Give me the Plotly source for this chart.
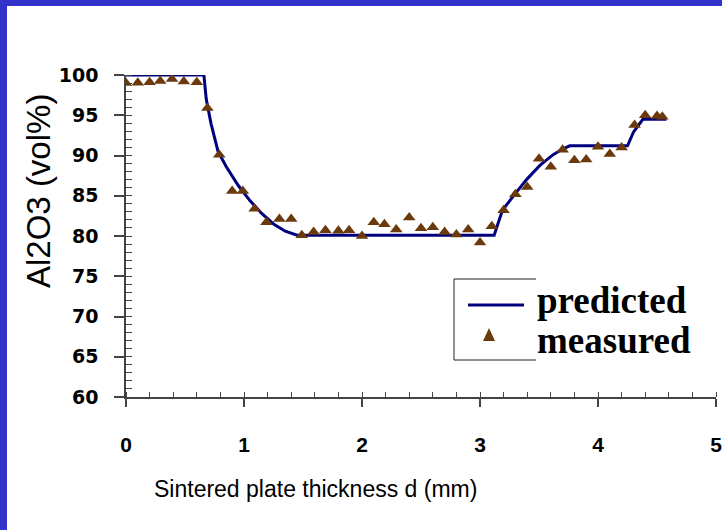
import plotly.graph_objects as go

# predicted (model) curve
pred_x = [0, 0.66, 0.68, 0.72, 0.78, 0.85, 0.95, 1.05, 1.15, 1.25, 1.35, 1.45,
          3.12, 3.19, 3.30, 3.40, 3.51, 3.62, 3.70, 3.76, 4.25, 4.30, 4.38, 4.58]
pred_y = [100, 100, 97, 94, 90.5, 88.6, 86.3, 84.4, 82.8, 81.5, 80.6, 80.1,
          80.1, 83.2, 85.3, 87.1, 88.8, 90.1, 90.8, 91.2, 91.2, 92.9, 94.5, 94.5]

# measured points
meas_x = [0.0, 0.10, 0.20, 0.29, 0.39, 0.49, 0.60, 0.69, 0.79, 0.90, 0.99, 1.09,
          1.19, 1.30, 1.40, 1.49, 1.59, 1.69, 1.80, 1.89, 2.00, 2.10, 2.19, 2.29,
          2.40, 2.50, 2.60, 2.70, 2.80, 2.90, 3.00, 3.10, 3.20, 3.30, 3.40, 3.50,
          3.60, 3.70, 3.80, 3.90, 4.00, 4.10, 4.20, 4.31, 4.40, 4.50, 4.545]
meas_y = [99.0, 99.05, 99.1, 99.25, 99.5, 99.2, 99.1, 95.9, 90.1, 85.6, 85.6, 83.4,
          81.7, 82.1, 82.1, 80.1, 80.5, 80.7, 80.65, 80.7, 80.0, 81.7, 81.45, 80.8,
          82.3, 80.95, 81.1, 80.5, 80.2, 80.8, 79.2, 81.2, 83.2, 85.2, 86.1, 89.6,
          88.6, 90.7, 89.4, 89.5, 91.1, 90.2, 91.0, 93.8, 95.0, 94.9, 94.8]

x_ticks = [0, 1, 2, 3, 4, 5]
y_ticks = [60, 65, 70, 75, 80, 85, 90, 95, 100]

LINE_COLOR = "#00007F"
MARK_COLOR = "#6B3A0C"
AX_COLOR = "#444444"
BLUE = "#3333CC"

W, H = 722, 530
L, R, T, B = 126, 6, 75, 133
PW, PH = W - L - R, H - T - B


def px(x):
    return (x - L) / PW


def py(y):
    return (H - B - y) / PH


fig = go.Figure()
fig.add_trace(go.Scatter(x=pred_x, y=pred_y, mode="lines",
                         line=dict(color=LINE_COLOR, width=3), name="predicted",
                         showlegend=False))
fig.add_trace(go.Scatter(x=meas_x, y=meas_y, mode="markers",
                         marker=dict(symbol="triangle-up", size=11, color=MARK_COLOR),
                         name="measured", showlegend=False))

shapes = []
# blue frame (top and left)
shapes.append(dict(type="rect", xref="paper", yref="paper", x0=px(0), x1=px(W),
                   y0=py(6), y1=py(0), fillcolor=BLUE, line=dict(width=0), layer="below"))
shapes.append(dict(type="rect", xref="paper", yref="paper", x0=px(0), x1=px(7),
                   y0=py(H), y1=py(0), fillcolor=BLUE, line=dict(width=0), layer="below"))
# legend box (top, left, bottom edges)
bx0, bx1, by0, by1 = 454, 536, 279, 360
for (a, b, c, d) in [(bx0, by0, bx1, by0), (bx0, by0, bx0, by1), (bx0, by1, bx1, by1)]:
    shapes.append(dict(type="line", xref="paper", yref="paper", x0=px(a), y0=py(b),
                       x1=px(c), y1=py(d), line=dict(color="#222222", width=1)))
# legend line sample
shapes.append(dict(type="line", xref="paper", yref="paper", x0=px(468), x1=px(524),
                   y0=py(305), y1=py(305), line=dict(color=LINE_COLOR, width=3)))
# legend triangle sample
tx, ty = 489, 335
shapes.append(dict(type="path", xref="paper", yref="paper",
                   path=f"M {px(tx-6)} {py(ty+6)} L {px(tx+6)} {py(ty+6)} L {px(tx)} {py(ty-7)} Z",
                   fillcolor=MARK_COLOR, line=dict(width=0)))

annotations = [
    dict(text="predicted", xref="paper", yref="paper", x=px(535), y=py(300),
         xanchor="left", yanchor="middle", showarrow=False,
         font=dict(family="Liberation Serif", size=37, color="black", weight="bold")),
    dict(text="measured", xref="paper", yref="paper", x=px(535), y=py(340),
         xanchor="left", yanchor="middle", showarrow=False,
         font=dict(family="Liberation Serif", size=37, color="black", weight="bold")),
    dict(text="Al2O3 (vol%)", xref="paper", yref="paper", x=px(38), y=py(191),
         xanchor="center", yanchor="middle", showarrow=False, textangle=-90,
         font=dict(family="Liberation Sans", size=33, color="black")),
    dict(text="Sintered plate thickness d (mm)", xref="paper", yref="paper",
         x=px(315), y=py(489), xanchor="center", yanchor="middle", showarrow=False,
         font=dict(family="Liberation Sans", size=23, color="black")),
]

fig.update_layout(
    width=W, height=H,
    margin=dict(l=L, r=R, t=T, b=B, autoexpand=False),
    paper_bgcolor="white", plot_bgcolor="white",
    shapes=shapes, annotations=annotations,
    xaxis=dict(range=[0, 5], tickvals=x_ticks, ticktext=[str(v) for v in x_ticks],
               automargin=False,
               showgrid=False, zeroline=False, showline=True, linecolor=AX_COLOR,
               linewidth=1.5, ticks="outside", ticklen=8, tickwidth=1.5,
               tickcolor=AX_COLOR, ticklabelstandoff=20, ticklabeloverflow="allow",
               tickfont=dict(family="Liberation Sans", size=21, color="black",
                             weight="bold"),
               minor=dict(dtick=0.2, tick0=0, ticks="inside", ticklen=5,
                          tickwidth=1.2, tickcolor=AX_COLOR, showgrid=False)),
    yaxis=dict(range=[60, 100], tickvals=y_ticks, ticktext=[str(v) for v in y_ticks],
               automargin=False,
               showgrid=False, zeroline=False, showline=True, linecolor=AX_COLOR,
               linewidth=1.5, ticks="outside", ticklen=10, tickwidth=1.5,
               tickcolor=AX_COLOR, ticklabelstandoff=12,
               tickfont=dict(family="DejaVu Sans", size=19, color="black",
                             weight="bold"),
               minor=dict(dtick=1, tick0=60, ticks="inside", ticklen=6,
                          tickwidth=1.2, tickcolor=AX_COLOR, showgrid=False)),
)

fig.write_html("out.html")
